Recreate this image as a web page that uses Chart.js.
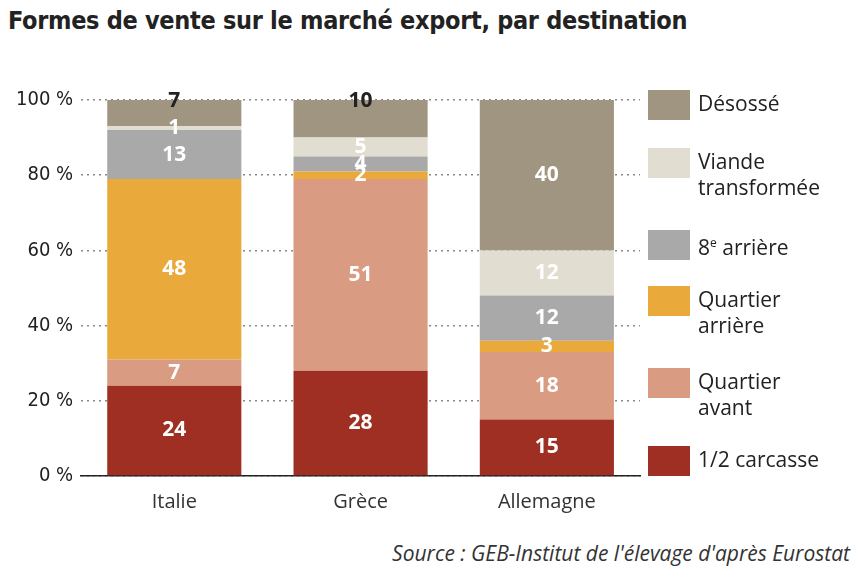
<!DOCTYPE html>
<html><head><meta charset="utf-8">
<script src="https://cdn.jsdelivr.net/npm/chart.js@4"></script>
<style>
body{margin:0;width:868px;height:576px;background:#fff;position:relative;overflow:hidden;font-family:"Open Sans",sans-serif}
#title{position:absolute;left:8px;top:6px;font:bold 25px "DejaVu Sans Condensed","Liberation Sans Narrow",sans-serif;color:#222;letter-spacing:-0.3px}
#wrap{position:absolute;left:0;top:80px;width:660px;height:440px}
#legend{position:absolute;left:648px;top:90px}
.it{position:absolute;left:0;display:flex;align-items:flex-start;width:220px}
.sw{width:42px;height:30px;flex:none;margin-right:8px}
.tx{font-size:21px;line-height:26px;color:#222;margin-top:0px}
#src{position:absolute;right:18px;top:539px;font:italic 21px "Open Sans",sans-serif;color:#333}
</style></head><body>
<div id="title">Formes de vente sur le marché export, par destination</div>
<div id="wrap"><canvas id="c"></canvas></div>
<div id="legend"></div>
<div id="src">Source : GEB-Institut de l'élevage d'après Eurostat</div>
<script>
const categories=["Italie","Grèce","Allemagne"];
const seriesNames=["1/2 carcasse","Quartier avant","Quartier arrière","8e arrière","Viande transformée","Désossé"];
const carcasse=[24,28,15];
const quartierAvant=[7,51,18];
const quartierArriere=[48,2,3];
const huitArriere=[13,4,12];
const viandeTransformee=[1,5,12];
const desosse=[7,10,40];
const yTicks=["0 %","20 %","40 %","60 %","80 %","100 %"];
const colors=["#9e2f22","#d99b82","#e9aa3b","#a9a9a9","#e1ddd1","#a09581"];
const values=[carcasse,quartierAvant,quartierArriere,huitArriere,viandeTransformee,desosse];

const legendItems=[[5,"Désossé",0],[4,"Viande<br>transformée",58],[3,"8<sup style='font-size:12px'>e</sup> arrière",140],[2,"Quartier<br>arrière",196],[1,"Quartier<br>avant",278],[0,"1/2 carcasse",356]];
const lg=document.getElementById('legend');
legendItems.forEach(([i,t,top])=>{lg.innerHTML+=`<div class="it" style="top:${top}px"><div class="sw" style="background:${colors[i]}"></div><div class="tx">${t}</div></div>`;});

const labelPlugin={id:'lbl',afterDatasetsDraw(ch){const c=ch.ctx;c.save();c.textAlign='center';c.textBaseline='middle';c.font='bold 21px "Open Sans",sans-serif';
ch.data.datasets.forEach((ds,di)=>{ch.getDatasetMeta(di).data.forEach((b,i)=>{const v=ds.data[i];let y=(b.y+b.base)/2;
 const top=di===5&&i<2;c.fillStyle=top?'#222':'#fff';if(top)y=ch.scales.y.getPixelForValue(100)+1;c.fillText(String(v),b.x,y);});});c.restore();}};

new Chart(document.getElementById('c'),{type:'bar',
data:{labels:categories,datasets:seriesNames.map((n,i)=>({label:n,data:values[i],backgroundColor:colors[i],borderWidth:0,barPercentage:0.72,categoryPercentage:1}))},
options:{responsive:true,maintainAspectRatio:false,animation:false,
layout:{padding:{top:18,right:20,left:8}},
plugins:{legend:{display:false},tooltip:{enabled:false}},
scales:{x:{stacked:true,grid:{display:false},border:{color:'#222',width:1.5},ticks:{color:'#333',font:{size:20,family:'"Open Sans"'},padding:6}},
y:{stacked:true,min:0,max:100,ticks:{stepSize:20,color:'#222',font:{size:20,family:'"DejaVu Sans Condensed"'},padding:8,callback:(v)=>yTicks[v/20]},
 grid:{color:'#888',lineWidth:1.5,drawTicks:false,tickBorderDash:[2,3]},border:{display:false,dash:[2,4]}}}},
plugins:[labelPlugin]});
</script></body></html>
